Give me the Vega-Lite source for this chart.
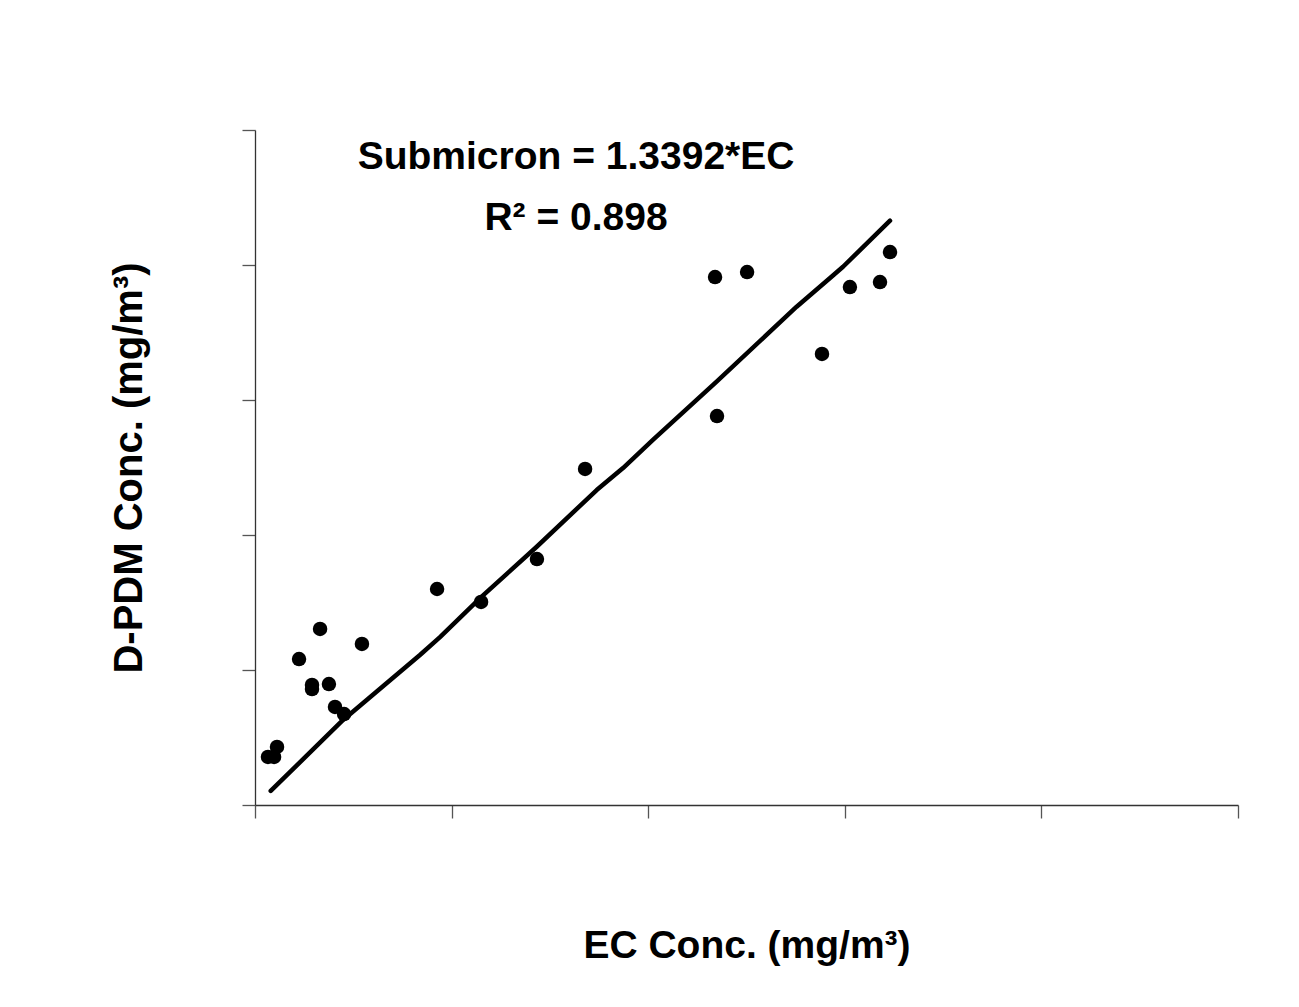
{
  "$schema": "https://vega.github.io/schema/vega-lite/v6.json",
  "width": 983,
  "height": 675,
  "autosize": {"type": "none"},
  "padding": {"left": 255, "top": 130, "right": 61, "bottom": 202},
  "background": "white",
  "config": {
    "view": {"stroke": null},
    "font": "Liberation Sans",
    "axis": {
      "labels": false,
      "grid": false,
      "tickSize": 13,
      "tickColor": "#555555",
      "domainColor": "#333333",
      "domainWidth": 1.3,
      "tickWidth": 1.3,
      "titleFont": "Liberation Sans",
      "titleFontWeight": "bold",
      "titleFontSize": 39,
      "titleColor": "black"
    }
  },
  "datasets": {
    "points": [
      {"ec": 0.066, "dpdm": 0.356},
      {"ec": 0.097, "dpdm": 0.356},
      {"ec": 0.112, "dpdm": 0.43},
      {"ec": 0.224, "dpdm": 1.081},
      {"ec": 0.29, "dpdm": 0.889},
      {"ec": 0.29, "dpdm": 0.859},
      {"ec": 0.331, "dpdm": 1.304},
      {"ec": 0.376, "dpdm": 0.896},
      {"ec": 0.407, "dpdm": 0.726},
      {"ec": 0.453, "dpdm": 0.674},
      {"ec": 0.544, "dpdm": 1.193},
      {"ec": 0.926, "dpdm": 1.6},
      {"ec": 1.15, "dpdm": 1.504},
      {"ec": 1.434, "dpdm": 1.822},
      {"ec": 1.679, "dpdm": 2.489},
      {"ec": 2.34, "dpdm": 3.911},
      {"ec": 2.35, "dpdm": 2.881},
      {"ec": 2.503, "dpdm": 3.948},
      {"ec": 2.884, "dpdm": 3.341},
      {"ec": 3.026, "dpdm": 3.837},
      {"ec": 3.179, "dpdm": 3.874},
      {"ec": 3.23, "dpdm": 4.096}
    ],
    "fit": [
      {"ec": 0.08, "fit": 0.104},
      {"ec": 0.448, "fit": 0.63},
      {"ec": 0.839, "fit": 1.111},
      {"ec": 0.941, "fit": 1.244},
      {"ec": 1.153, "fit": 1.543},
      {"ec": 1.433, "fit": 1.913},
      {"ec": 1.738, "fit": 2.333},
      {"ec": 1.872, "fit": 2.496},
      {"ec": 2.024, "fit": 2.704},
      {"ec": 2.348, "fit": 3.136},
      {"ec": 2.755, "fit": 3.691},
      {"ec": 2.925, "fit": 3.904},
      {"ec": 2.991, "fit": 3.987},
      {"ec": 3.23, "fit": 4.328}
    ],
    "notes": [
      {"ec": 1.633, "val": 4.8, "label": "Submicron = 1.3392*EC"},
      {"ec": 1.633, "val": 4.348, "label": "R² = 0.898"}
    ]
  },
  "layer": [
    {
      "data": {"name": "fit"},
      "mark": {"type": "line", "color": "black", "strokeWidth": 4.5, "strokeCap": "round", "strokeJoin": "round"},
      "encoding": {
        "x": {"field": "ec", "type": "quantitative", "scale": {"domain": [0, 5], "nice": false}, "axis": {"values": [0, 1, 2, 3, 4, 5], "title": "EC Conc. (mg/m³)", "titlePadding": 108}},
        "y": {"field": "fit", "type": "quantitative", "scale": {"domain": [0, 5], "nice": false}, "axis": {"values": [0, 1, 2, 3, 4, 5], "title": "D-PDM Conc. (mg/m³)", "titlePadding": 92, "titleFontSize": 40}}
      }
    },
    {
      "data": {"name": "points"},
      "mark": {"type": "circle", "color": "black", "opacity": 1, "size": 210},
      "encoding": {
        "x": {"field": "ec", "type": "quantitative"},
        "y": {"field": "dpdm", "type": "quantitative"}
      }
    },
    {
      "data": {"name": "notes"},
      "mark": {"type": "text", "font": "Liberation Sans", "fontWeight": "bold", "fontSize": 39, "align": "center", "baseline": "middle", "color": "black"},
      "encoding": {
        "x": {"field": "ec", "type": "quantitative"},
        "y": {"field": "val", "type": "quantitative"},
        "text": {"field": "label"}
      }
    }
  ]
}
